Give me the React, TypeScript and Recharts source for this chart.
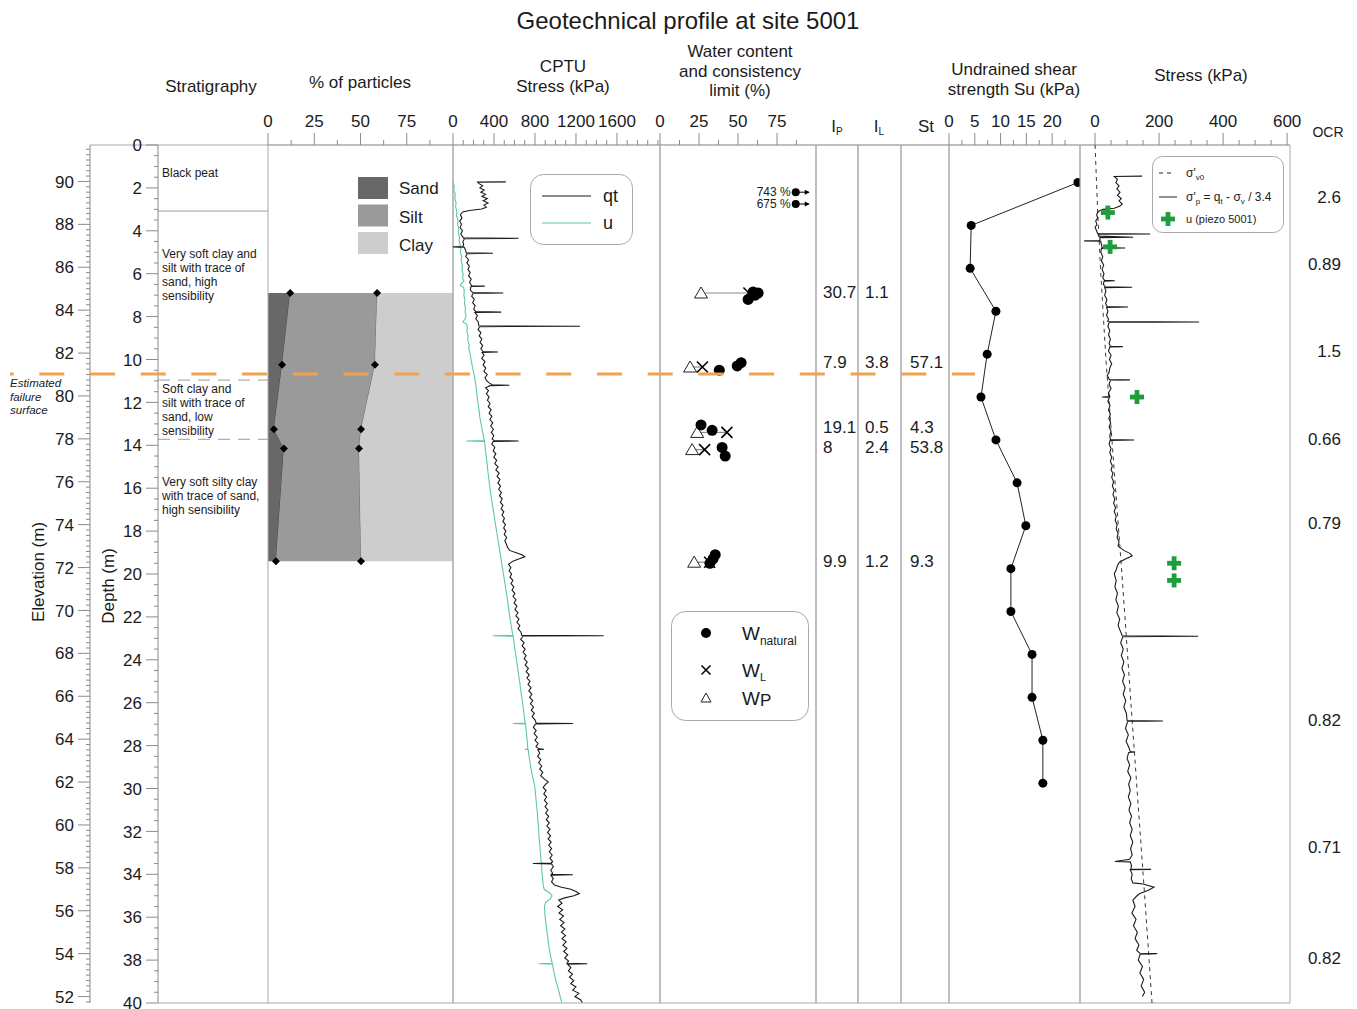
import React from "react";
import {
  ComposedChart,
  ScatterChart,
  Scatter,
  Area,
  XAxis,
  YAxis,
  ReferenceLine,
  ReferenceArea,
  Legend,
} from "recharts";

const W = 1357;
const H = 1009;
const TOP = 145;
const BOT = 1003;
const AXIS_H = 30;
const PAD = 20;
const FONT = "'Liberation Sans', Arial, Helvetica, sans-serif";
const BORDER = "#a9a9a9";
const TICK = "#8a8a8a";
const INK = "#1b1b1b";
const TEAL = "#5fc6b2";
const ORANGE = "#f0a24e";
const GREEN = "#1f9d3e";
const SAND = "#686868";
const SILT = "#9a9a9a";
const CLAY = "#cdcdcd";

const range = (a: number, b: number, s: number) => {
  const out: number[] = [];
  for (let i = 0; a + i * s <= b + 1e-9; i++) out.push(Math.round((a + i * s) * 1000) / 1000);
  return out;
};

// ---- axes ----
const ELEV_TOP = 91.7; // elevation at depth 0
const elevMajor = [52, 54, 56, 58, 60, 62, 64, 66, 68, 70, 72, 74, 76, 78, 80, 82, 84, 86, 88, 90];
const depthMajor = [0, 2, 4, 6, 8, 10, 12, 14, 16, 18, 20, 22, 24, 26, 28, 30, 32, 34, 36, 38, 40];
const particleMajor = [0, 25, 50, 75];
const cptuMajor = [0, 400, 800, 1200, 1600];
const waterMajor = [0, 25, 50, 75];
const suMajor = [0, 5, 10, 15, 20];
const stressMajor = [0, 200, 400, 600];

// ---- stratigraphy ----
const strataBounds = [
  { d: 3.08, dashed: false },
  { d: 10.96, dashed: true },
  { d: 13.72, dashed: true },
];
const strataLabels = [
  { x: 0, d: 1.3, lines: ["Black peat"] },
  { x: 0, d: 5.08, lines: ["Very soft clay and", "silt with trace of", "sand, high", "sensibility"] },
  { x: 0, d: 11.38, lines: ["Soft clay and", "silt with trace of", "sand, low", "sensibility"] },
  { x: 0, d: 15.72, lines: ["Very soft silty clay", "with trace of sand,", "high sensibility"] },
];
const failureDepth = 10.68;
const failureLabel = ["Estimated", "failure", "surface"];

// ---- grain size (%) ----
const particleDepth = [6.9, 10.25, 13.25, 14.15, 19.4];
const sandPct = [12, 7.6, 3.2, 8.6, 4.3];
const siltPct = [47, 50.2, 47.1, 40.6, 46];
const particleLegend = [
  { label: "Sand", color: SAND },
  { label: "Silt", color: SILT },
  { label: "Clay", color: CLAY },
];

// ---- CPTU (depth m, kPa) ----
const qtPairs: [number, number][] = [
  [1.72, 515], [1.73, 240], [1.8, 255], [1.9, 290], [2.0, 262], [2.1, 305], [2.2, 272], [2.3, 318], [2.4, 283],
  [2.5, 335], [2.6, 295], [2.7, 342], [2.8, 302], [2.9, 325], [2.98, 280], [3.05, 160], [3.12, 95], [3.25, 72],
  [3.4, 88], [3.55, 66], [3.7, 82], [3.85, 70], [4.0, 92], [4.15, 76], [4.33, 102], [4.35, 640], [4.37, 112],
  [4.5, 96], [4.65, 104], [4.73, 98], [4.75, 0], [4.77, 110], [4.9, 122], [5.03, 130], [5.05, 390], [5.07, 138],
  [5.2, 124], [5.35, 152], [5.5, 136], [5.65, 160], [5.8, 146], [5.95, 168], [6.1, 152], [6.25, 178], [6.4, 162],
  [6.56, 182], [6.58, 310], [6.6, 176], [6.75, 168], [6.88, 192], [6.9, 490], [6.92, 196], [7.05, 182], [7.2, 208],
  [7.35, 192], [7.5, 216], [7.65, 202], [7.77, 222], [7.79, 470], [7.81, 214], [7.95, 238], [8.1, 222], [8.25, 246],
  [8.43, 252], [8.45, 1240], [8.47, 262], [8.6, 244], [8.75, 272], [8.9, 256], [9.05, 282], [9.2, 264], [9.35, 290],
  [9.5, 272], [9.63, 292], [9.65, 440], [9.67, 284], [9.8, 302], [9.95, 280], [10.1, 312], [10.25, 294], [10.4, 320],
  [10.55, 302], [10.7, 334], [10.85, 312], [11.0, 330], [11.1, 356], [11.18, 382], [11.2, 550], [11.22, 362],
  [11.32, 318], [11.45, 346], [11.6, 326], [11.75, 352], [11.9, 336], [12.05, 362], [12.2, 344], [12.35, 372],
  [12.5, 352], [12.65, 380], [12.8, 360], [12.95, 388], [13.1, 368], [13.25, 394], [13.4, 374], [13.55, 398],
  [13.7, 382], [13.78, 402], [13.8, 640], [13.82, 392], [13.95, 378], [14.1, 408], [14.25, 392], [14.4, 418],
  [14.55, 398], [14.7, 426], [14.85, 408], [15.0, 440], [15.15, 418], [15.3, 450], [15.45, 430], [15.6, 458],
  [15.75, 438], [15.9, 464], [16.05, 446], [16.2, 472], [16.35, 454], [16.5, 480], [16.65, 462], [16.8, 488],
  [16.95, 470], [17.1, 496], [17.25, 478], [17.4, 502], [17.55, 486], [17.7, 512], [17.85, 494], [18.0, 516],
  [18.15, 500], [18.3, 524], [18.45, 506], [18.6, 520], [18.75, 532], [18.9, 552], [19.0, 610], [19.1, 672],
  [19.2, 700], [19.3, 640], [19.4, 585], [19.55, 542], [19.7, 565], [19.85, 548], [20.0, 572], [20.15, 556],
  [20.3, 584], [20.45, 566], [20.6, 594], [20.75, 576], [20.9, 604], [21.05, 586], [21.2, 614], [21.35, 596],
  [21.5, 624], [21.65, 604], [21.8, 634], [21.95, 614], [22.1, 644], [22.25, 624], [22.4, 652], [22.55, 634],
  [22.7, 662], [22.86, 672], [22.88, 1470], [22.9, 684], [23.05, 660], [23.2, 694], [23.35, 674], [23.5, 704],
  [23.65, 684], [23.8, 714], [23.95, 694], [24.1, 724], [24.25, 704], [24.4, 736], [24.55, 714], [24.7, 744],
  [24.85, 722], [25.0, 752], [25.15, 732], [25.3, 762], [25.45, 740], [25.6, 770], [25.75, 748], [25.9, 778],
  [26.05, 756], [26.2, 786], [26.35, 764], [26.5, 794], [26.65, 772], [26.8, 800], [26.95, 812], [26.97, 1170],
  [26.99, 804], [27.15, 784], [27.3, 812], [27.45, 792], [27.6, 822], [27.75, 800], [27.9, 830], [28.05, 810],
  [28.15, 838], [28.17, 888], [28.19, 828], [28.35, 846], [28.5, 826], [28.65, 856], [28.8, 836], [28.95, 866],
  [29.1, 846], [29.25, 876], [29.4, 856], [29.55, 890], [29.7, 930], [29.8, 905], [29.95, 880], [30.1, 908],
  [30.25, 886], [30.4, 914], [30.55, 892], [30.7, 920], [30.85, 898], [31.0, 926], [31.15, 904], [31.3, 934],
  [31.45, 910], [31.6, 940], [31.75, 916], [31.9, 946], [32.05, 922], [32.2, 952], [32.35, 928], [32.5, 958],
  [32.65, 934], [32.8, 962], [32.95, 940], [33.1, 968], [33.25, 946], [33.4, 972], [33.48, 958], [33.5, 780],
  [33.52, 962], [33.65, 980], [33.8, 954], [33.95, 972], [34.0, 962], [34.02, 1170], [34.04, 956], [34.2, 978],
  [34.35, 962], [34.5, 990], [34.6, 1060], [34.7, 1150], [34.8, 1200], [34.9, 1232], [35.0, 1180], [35.1, 1090],
  [35.2, 1032], [35.35, 1064], [35.5, 1022], [35.65, 1070], [35.8, 1034], [35.95, 1078], [36.1, 1042],
  [36.25, 1084], [36.4, 1050], [36.55, 1092], [36.7, 1058], [36.85, 1098], [37.0, 1064], [37.15, 1104],
  [37.3, 1072], [37.45, 1112], [37.6, 1080], [37.75, 1120], [37.9, 1090], [38.05, 1128], [38.15, 1112],
  [38.17, 1310], [38.19, 1118], [38.35, 1150], [38.5, 1126], [38.65, 1166], [38.8, 1136], [38.95, 1178],
  [39.1, 1150], [39.25, 1200], [39.4, 1168], [39.55, 1228], [39.7, 1190], [39.85, 1244], [39.97, 1262],
];
const uPairs: [number, number][] = [
  [1.72, 0], [1.9, 12], [2.1, 8], [2.3, 22], [2.5, 18], [2.7, 30], [2.9, 26], [3.1, 38], [3.3, 34], [3.5, 48],
  [3.7, 44], [3.9, 56], [4.1, 52], [4.3, 64], [4.5, 60], [4.7, 74], [4.75, 40], [4.8, 78], [5.0, 72], [5.2, 84],
  [5.4, 80], [5.6, 92], [5.8, 88], [6.0, 98], [6.2, 94], [6.35, 106], [6.45, 82], [6.55, 72], [6.65, 104],
  [6.8, 110], [7.0, 106], [7.2, 116], [7.4, 112], [7.6, 122], [7.8, 118], [8.0, 128], [8.15, 112], [8.25, 96],
  [8.35, 132], [8.5, 140], [8.7, 136], [8.9, 148], [9.1, 144], [9.3, 158], [9.5, 154], [9.7, 166], [9.9, 172],
  [10.1, 180], [10.3, 188], [10.5, 196], [10.7, 206], [10.9, 214], [11.1, 220], [11.3, 226], [11.5, 230],
  [11.7, 236], [11.9, 240], [12.1, 246], [12.3, 252], [12.5, 258], [12.7, 262], [12.9, 270], [13.1, 278],
  [13.3, 286], [13.5, 294], [13.7, 302], [13.78, 306], [13.8, 130], [13.82, 308], [14.0, 312], [14.3, 318],
  [14.6, 326], [14.9, 334], [15.2, 340], [15.5, 348], [15.8, 356], [16.1, 364], [16.4, 372], [16.7, 382],
  [17.0, 392], [17.3, 402], [17.6, 412], [17.9, 422], [18.2, 432], [18.5, 442], [18.8, 452], [19.1, 462],
  [19.4, 472], [19.7, 482], [20.0, 492], [20.3, 502], [20.6, 512], [20.9, 522], [21.2, 532], [21.5, 540],
  [21.8, 548], [22.1, 558], [22.4, 568], [22.7, 578], [22.86, 584], [22.88, 390], [22.9, 588], [23.2, 596],
  [23.5, 604], [23.8, 614], [24.1, 622], [24.4, 632], [24.7, 640], [25.0, 650], [25.3, 658], [25.6, 666],
  [25.9, 676], [26.2, 684], [26.5, 692], [26.8, 700], [26.95, 704], [26.97, 585], [26.99, 708], [27.3, 714],
  [27.6, 720], [27.9, 726], [28.15, 730], [28.17, 700], [28.19, 734], [28.5, 742], [28.8, 752], [29.1, 762],
  [29.4, 774], [29.7, 790], [30.0, 800], [30.3, 806], [30.6, 812], [30.9, 818], [31.2, 824], [31.5, 828],
  [31.8, 834], [32.1, 838], [32.4, 842], [32.7, 848], [33.0, 852], [33.3, 858], [33.6, 864], [33.9, 868],
  [34.2, 874], [34.5, 880], [34.7, 890], [34.85, 940], [35.0, 966], [35.15, 950], [35.3, 905], [35.5, 892],
  [35.8, 896], [36.1, 902], [36.4, 910], [36.7, 918], [37.0, 926], [37.3, 934], [37.6, 944], [37.9, 956],
  [38.1, 966], [38.15, 970], [38.17, 840], [38.19, 972], [38.5, 982], [38.8, 996], [39.1, 1012], [39.4, 1030],
  [39.7, 1046], [39.97, 1062],
];
const cptuLegend = [
  { label: "qt", color: INK },
  { label: "u", color: TEAL },
];

// ---- water content (%) ----
const wNatural: [number, number][] = [
  [6.85, 59.7], [6.9, 62.9], [7.2, 56.5], [7.0, 61], [10.15, 52], [10.3, 49.5], [10.5, 38], [13.05, 26.3],
  [13.3, 33.4], [14.1, 39.8], [14.5, 41.8], [19.1, 35.4], [19.3, 34], [19.5, 32],
];
const limitDepth = [6.9, 10.35, 13.4, 14.2, 19.45];
const wPlastic = [26.3, 19.3, 23.8, 20.6, 21.9];
const wLiquid = [57, 27.2, 42.9, 28.6, 31.8];
const offScaleDepth = [2.2, 2.75];
const offScaleW = [743, 675];
const W_CAP = 87; // where off-scale values are drawn

// ---- indices ----
const indexDepth = [6.85, 10.1, 13.15, 14.08, 19.4];
const ipText = ["30.7", "7.9", "19.1", "8", "9.9"];
const ilText = ["1.1", "3.8", "0.5", "2.4", "1.2"];
const stText = ["", "57.1", "4.3", "53.8", "9.3"];

// ---- undrained shear strength ----
const suDepth = [1.75, 3.75, 5.75, 7.75, 9.75, 11.75, 13.75, 15.75, 17.75, 19.75, 21.75, 23.75, 25.75, 27.75, 29.75];
const suValue = [25, 4.3, 4.1, 9.1, 7.4, 6.2, 9.1, 13.2, 14.9, 12.0, 12.0, 16.1, 16.1, 18.2, 18.2];

// ---- stresses (kPa) ----
const sigmaP: [number, number][] = [
  [1.45, 147], [1.47, 60], [1.6, 70], [1.75, 65], [1.9, 75], [2.05, 68], [2.2, 78], [2.35, 70], [2.5, 82],
  [2.6, 75], [2.75, 85], [2.85, 78], [2.95, 60], [3.0, 25], [3.1, 10], [3.25, 5], [3.4, 8], [3.55, 2], [3.7, 6],
  [3.85, 0], [4.0, 5], [4.13, 8], [4.15, 172], [4.17, 10], [4.25, 12], [4.3, 119], [4.32, 15], [4.45, 15],
  [4.47, -34], [4.49, 18], [4.65, 20], [4.78, 22], [4.8, 94], [4.82, 20], [5.0, 18], [5.2, 24], [5.4, 20],
  [5.6, 27], [5.8, 22], [6.0, 28], [6.2, 24], [6.31, 30], [6.33, 62], [6.35, 28], [6.5, 26], [6.61, 32],
  [6.63, 116], [6.65, 30], [6.8, 34], [7.0, 30], [7.2, 37], [7.4, 33], [7.53, 38], [7.55, 103], [7.57, 36],
  [7.75, 40], [7.95, 36], [8.1, 42], [8.23, 40], [8.25, 325], [8.27, 44], [8.45, 40], [8.65, 46], [8.85, 42],
  [9.05, 48], [9.25, 44], [9.38, 48], [9.4, 87], [9.42, 46], [9.6, 42], [9.8, 50], [10.0, 45], [10.2, 52],
  [10.4, 46], [10.6, 44], [10.75, 38], [10.93, 45], [10.95, 109], [10.97, 48], [11.15, 44], [11.35, 50],
  [11.55, 42], [11.73, 46], [11.75, 22], [11.77, 45], [11.95, 40], [12.15, 47], [12.35, 42], [12.55, 48],
  [12.75, 43], [12.95, 49], [13.15, 44], [13.35, 50], [13.55, 46], [13.73, 48], [13.75, 122], [13.77, 47],
  [13.95, 44], [14.15, 50], [14.35, 46], [14.55, 52], [14.75, 48], [14.95, 54], [15.15, 50], [15.3, 56],
  [15.5, 52], [15.7, 58], [15.9, 54], [16.1, 60], [16.3, 56], [16.5, 62], [16.7, 58], [16.9, 64], [17.1, 60],
  [17.3, 66], [17.5, 63], [17.7, 69], [17.9, 66], [18.1, 72], [18.3, 69], [18.5, 75], [18.7, 72], [18.9, 90],
  [19.05, 110], [19.15, 116], [19.3, 95], [19.45, 76], [19.6, 70], [19.8, 66], [20.0, 60], [20.3, 66],
  [20.6, 62], [20.9, 70], [21.2, 65], [21.5, 73], [21.8, 68], [22.1, 77], [22.4, 72], [22.7, 80], [22.88, 85],
  [22.9, 322], [22.92, 87], [23.2, 80], [23.5, 88], [23.8, 82], [24.1, 90], [24.4, 84], [24.7, 92], [25.0, 86],
  [25.3, 94], [25.6, 88], [25.9, 96], [26.2, 90], [26.5, 98], [26.83, 100], [26.85, 212], [26.87, 102],
  [27.2, 95], [27.5, 104], [27.8, 97], [28.1, 106], [28.28, 110], [28.3, 125], [28.32, 105], [28.6, 100],
  [28.9, 108], [29.2, 102], [29.5, 112], [29.8, 105], [30.1, 110], [30.4, 104], [30.7, 112], [31.0, 106],
  [31.3, 114], [31.6, 108], [31.9, 116], [32.2, 110], [32.5, 118], [32.8, 111], [33.1, 116], [33.3, 108],
  [33.4, 62], [33.42, 110], [33.6, 114], [33.75, 112], [33.77, 175], [33.79, 110], [34.0, 116], [34.2, 113],
  [34.4, 118], [34.45, 150], [34.6, 184], [34.75, 165], [34.9, 140], [35.0, 131], [35.2, 118], [35.5, 125],
  [35.8, 115], [36.1, 128], [36.4, 120], [36.7, 132], [37.0, 125], [37.3, 137], [37.55, 130], [37.68, 140],
  [37.7, 194], [37.72, 141], [38.0, 135], [38.3, 148], [38.6, 140], [38.9, 152], [39.2, 144], [39.5, 155],
  [39.7, 148],
];
const sigmaV0: [number, number][] = [
  [0, 0], [3, 8], [6, 18], [10, 34], [14, 54], [20, 84], [26, 112], [30, 131], [35, 155], [40, 178],
];
const piezo: [number, number][] = [
  [3.15, 40], [4.75, 47], [11.75, 131], [19.5, 247], [20.3, 247],
];

// ---- OCR ----
const ocrDepth = [2.42, 5.55, 9.6, 13.7, 17.6, 26.8, 32.7, 37.9];
const ocrText = ["2.6", "0.89", "1.5", "0.66", "0.79", "0.82", "0.71", "0.82"];

const pts = (a: [number, number][]) => a.map(([d, x]) => ({ d, x }));

// ---------- tick renderers ----------
function TopTick(props: any) {
  const { x, payload, majors } = props;
  const v = payload?.value;
  const major = majors.some((m: number) => Math.abs(m - v) < 1e-6);
  return (
    <g>
      <line x1={x} x2={x} y1={TOP} y2={TOP - (major ? 12 : 5)} stroke={TICK} />
      {major && (
        <text x={x} y={TOP - 18} textAnchor="middle" fontSize={17} fill={INK}>
          {v}
        </text>
      )}
    </g>
  );
}

function LeftTick(props: any) {
  const { y, payload, majors, axisX } = props;
  const v = payload?.value;
  const major = majors.some((m: number) => Math.abs(m - v) < 1e-6);
  return (
    <g>
      <line x1={axisX} x2={axisX - (major ? 12 : 4)} y1={y} y2={y} stroke={TICK} />
      {major && (
        <text x={axisX - 16} y={y} dy="0.36em" textAnchor="end" fontSize={17} fill={INK}>
          {v}
        </text>
      )}
    </g>
  );
}

// ---------- shapes ----------
const Nothing = () => null;
const Diamond = (p: any) => {
  if (p.cx == null || p.cy == null) return null;
  const r = 4;
  const { cx, cy } = p;
  return <path key={p.index} d={`M${cx},${cy - r}L${cx + r},${cy}L${cx},${cy + r}L${cx - r},${cy}Z`} fill="#000" />;
};
const BigDot = (p: any) => <circle cx={p.cx} cy={p.cy} r={5.5} fill="#000" />;
const SuDot = (p: any) => <circle cx={p.cx} cy={p.cy} r={4.5} fill="#000" />;
const XMark = (p: any) => {
  const r = 5.5;
  const { cx, cy } = p;
  return <path d={`M${cx - r},${cy - r}L${cx + r},${cy + r}M${cx - r},${cy + r}L${cx + r},${cy - r}`} stroke="#000" strokeWidth={1.6} />;
};
const TriMark = (p: any) => {
  const { cx, cy } = p;
  return <path d={`M${cx},${cy - 6}L${cx + 6.5},${cy + 5}L${cx - 6.5},${cy + 5}Z`} fill="#fff" stroke="#222" strokeWidth={1} />;
};
const PlusMark = (p: any) => {
  const { cx, cy } = p;
  return (
    <g fill={GREEN}>
      <rect x={cx - 7} y={cy - 2.4} width={14} height={4.8} />
      <rect x={cx - 2.4} y={cy - 7} width={4.8} height={14} />
    </g>
  );
};
const OffScale = (p: any) => {
  const { cx, cy } = p;
  const label = p.payload?.label ?? p.label;
  return (
    <g>
      <circle cx={cx} cy={cy} r={4} fill="#000" />
      <line x1={cx} x2={cx + 13} y1={cy} y2={cy} stroke="#000" strokeWidth={1} />
      <path d={`M${cx + 14},${cy}L${cx + 9},${cy - 2.5}L${cx + 9},${cy + 2.5}Z`} fill="#000" />
      <text x={cx - 5} y={cy} dy="0.35em" textAnchor="end" fontSize={12} fill={INK}>
        {label}
      </text>
    </g>
  );
};
const textMark = (dx: number, anchor: "start" | "middle" | "end", size = 17) => (p: any) => (
  <text x={p.cx + dx} y={p.cy} dy="0.36em" textAnchor={anchor} fontSize={size} fill={INK}>
    {p.payload?.label ?? p.label}
  </text>
);
const StrataText = (p: any) => {
  const lines: string[] = p.payload?.lines ?? p.lines ?? [];
  return (
    <text x={p.cx + 4} y={p.cy} fontSize={12} fill={INK}>
      {lines.map((l, i) => (
        <tspan key={i} x={p.cx + 4} dy={i === 0 ? "0.35em" : 14}>
          {l}
        </tspan>
      ))}
    </text>
  );
};
const FailureText = (p: any) => {
  const idx = p.payload?.idx ?? p.idx;
  if (idx !== 0) return null;
  return (
    <text x={p.cx} y={p.cy} fontSize={11.5} fontStyle="italic" fill={INK}>
      {failureLabel.map((l, i) => (
        <tspan key={i} x={p.cx} dy={i === 0 ? 13 : 13.5}>
          {l}
        </tspan>
      ))}
    </text>
  );
};

// ---------- generic panel ----------
function Panel(props: any) {
  const { left, right, domain, majors = [], ticks, children, border = true, axis = true } = props;
  return (
    <div style={{ position: "absolute", left: left - PAD, top: 0 }}>
      <ScatterChart
        width={right - left + 2 * PAD}
        height={H}
        margin={{ top: TOP - AXIS_H, bottom: H - BOT, left: PAD, right: PAD }}
      >
        <XAxis
          type="number"
          dataKey="x"
          orientation="top"
          domain={domain}
          allowDataOverflow
          ticks={ticks}
          interval={0}
          height={AXIS_H}
          tickLine={false}
          axisLine={axis ? { stroke: BORDER } : false}
          tick={ticks ? <TopTick majors={majors} /> : false}
        />
        <YAxis type="number" dataKey="d" domain={[0, 40]} reversed hide allowDataOverflow />
        {border && (
          <ReferenceArea x1={domain[0]} x2={domain[1]} y1={0} y2={40} fill="none" stroke={BORDER} ifOverflow="visible" />
        )}
        {children}
      </ScatterChart>
    </div>
  );
}

const lg = (pageX: number, pageY: number, panelLeft: number, w: number, h: number) => ({
  left: pageX - (panelLeft - PAD),
  top: pageY,
  width: w,
  height: h,
});

// ---------- pieces ----------
function ElevationAxis() {
  return (
    <div style={{ position: "absolute", left: 0, top: 0 }}>
      <ComposedChart width={158} height={H} margin={{ top: TOP - AXIS_H, bottom: H - BOT, left: 0, right: 0 }}>
        <XAxis type="number" orientation="top" domain={[0, 1]} height={AXIS_H} tick={false} tickLine={false} axisLine={{ stroke: BORDER }} />
        <YAxis
          type="number"
          domain={[ELEV_TOP - 40, ELEV_TOP]}
          allowDataOverflow
          width={90}
          ticks={range(51.75, 91.5, 0.25)}
          interval={0}
          tickLine={false}
          tickSize={12}
          tickMargin={4}
          tick={<LeftTick majors={elevMajor} axisX={90} />}
          axisLine={{ stroke: TICK }}
          label={{
            content: (p: any) => {
              const vb = p.viewBox || { x: 0, y: TOP, width: 90, height: BOT - TOP };
              const cx = vb.x + 38;
              const cy = vb.y + vb.height / 2 - 2;
              return (
                <text x={cx} y={cy} transform={`rotate(-90 ${cx} ${cy})`} textAnchor="middle" dy="0.35em" fontSize={17} fill={INK}>
                  Elevation (m)
                </text>
              );
            },
          }}
        />
        <ReferenceLine y={ELEV_TOP - 40} stroke={BORDER} ifOverflow="visible" />
      </ComposedChart>
    </div>
  );
}

function DepthStrata() {
  return (
    <div style={{ position: "absolute", left: 90, top: 0 }}>
      <ScatterChart width={178} height={H} margin={{ top: TOP - AXIS_H, bottom: H - BOT, left: 0, right: 0 }}>
        <XAxis type="number" dataKey="x" orientation="top" domain={[0, 1]} height={AXIS_H} tick={false} tickLine={false} axisLine={{ stroke: BORDER }} />
        <YAxis
          type="number"
          dataKey="d"
          domain={[0, 40]}
          reversed
          allowDataOverflow
          width={68}
          ticks={range(0, 40, 0.5)}
          interval={0}
          tickLine={false}
          tickSize={12}
          tickMargin={4}
          tick={<LeftTick majors={depthMajor} axisX={68} />}
          axisLine={{ stroke: TICK }}
          label={{
            content: (p: any) => {
              const vb = p.viewBox || { x: 0, y: TOP, width: 68, height: BOT - TOP };
              const cx = vb.x + 18;
              const cy = vb.y + vb.height / 2 + 12;
              return (
                <text x={cx} y={cy} transform={`rotate(-90 ${cx} ${cy})`} textAnchor="middle" dy="0.35em" fontSize={17} fill={INK}>
                  Depth (m)
                </text>
              );
            },
          }}
        />
        <ReferenceLine y={40} stroke={BORDER} ifOverflow="visible" />
        {strataBounds.map((b, i) => (
          <ReferenceLine key={i} y={b.d} stroke="#9c9c9c" strokeDasharray={b.dashed ? "12 8" : undefined} />
        ))}
        <Scatter data={strataLabels} shape={StrataText} isAnimationActive={false} />
      </ScatterChart>
    </div>
  );
}

function ParticlesPanel() {
  const left = 268;
  const right = 453;
  const rows = particleDepth.map((d, i) => ({
    d,
    sand: sandPct[i],
    silt: siltPct[i],
    clay: 100 - sandPct[i] - siltPct[i],
  }));
  return (
    <div style={{ position: "absolute", left: left - PAD, top: 0 }}>
      <ComposedChart
        layout="vertical"
        data={rows}
        width={right - left + 2 * PAD}
        height={H}
        margin={{ top: TOP - AXIS_H, bottom: H - BOT, left: PAD, right: PAD }}
      >
        <XAxis
          type="number"
          orientation="top"
          domain={[0, 100]}
          allowDataOverflow
          ticks={range(0, 87.5, 12.5)}
          interval={0}
          height={AXIS_H}
          tickLine={false}
          axisLine={{ stroke: BORDER }}
          tick={<TopTick majors={particleMajor} />}
        />
        {/* in vertical layout Recharts already runs the category axis top-down */}
        <YAxis type="number" dataKey="d" domain={[0, 40]} hide allowDataOverflow />
        <Area dataKey="sand" stackId="p" type="linear" fill={SAND} fillOpacity={1} stroke="#3a3a3a" strokeWidth={0.8} dot={Diamond} activeDot={false} isAnimationActive={false} />
        <Area dataKey="silt" stackId="p" type="linear" fill={SILT} fillOpacity={1} stroke="#555" strokeWidth={0.8} dot={Diamond} activeDot={false} isAnimationActive={false} />
        <Area dataKey="clay" stackId="p" type="linear" fill={CLAY} fillOpacity={1} stroke="none" activeDot={false} isAnimationActive={false} />
        <ReferenceArea x1={0} x2={100} y1={0} y2={40} fill="none" stroke={BORDER} ifOverflow="visible" />
        <Legend
          layout="vertical"
          align="center"
          verticalAlign="middle"
          wrapperStyle={lg(358, 177, left, 95, 80)}
          content={() => (
            <svg width={95} height={80}>
              {particleLegend.map((e, i) => (
                <g key={e.label}>
                  <rect x={0} y={i * 27.5} width={30} height={22} fill={e.color} />
                  <text x={41} y={i * 28.5 + 17} fontSize={17} fill={INK}>
                    {e.label}
                  </text>
                </g>
              ))}
            </svg>
          )}
        />
      </ComposedChart>
    </div>
  );
}

function Txt({ x, y, size = 17, children, style }: any) {
  return (
    <div
      style={{
        position: "absolute",
        left: x,
        top: y,
        transform: "translate(-50%, -50%)",
        fontSize: size,
        whiteSpace: "nowrap",
        lineHeight: 1,
        ...style,
      }}
    >
      {children}
    </div>
  );
}

export default function App() {
  const idxCols = [
    { left: 816, right: 858, texts: ipText, dx: 7 },
    { left: 858, right: 901, texts: ilText, dx: 7 },
    { left: 901, right: 949, texts: stText, dx: 9 },
  ];
  return (
    <div
      style={{
        position: "absolute",
        left: 0,
        top: 0,
        width: W,
        height: H,
        background: "#fff",
        fontFamily: FONT,
        color: INK,
        overflow: "hidden",
      }}
    >
      {/* titles */}
      <Txt x={688} y={21} size={24}>Geotechnical profile at site 5001</Txt>
      <Txt x={211} y={86}>Stratigraphy</Txt>
      <Txt x={360} y={82}>% of particles</Txt>
      <Txt x={563} y={66}>CPTU</Txt>
      <Txt x={563} y={86}>Stress (kPa)</Txt>
      <Txt x={740} y={51}>Water content</Txt>
      <Txt x={740} y={71}>and consistency</Txt>
      <Txt x={740} y={90}>limit (%)</Txt>
      <Txt x={1014} y={69}>Undrained shear</Txt>
      <Txt x={1014} y={89}>strength Su (kPa)</Txt>
      <Txt x={1201} y={75}>Stress (kPa)</Txt>
      <Txt x={1328} y={132} size={14}>OCR</Txt>
      <Txt x={837} y={127}>
        I<span style={{ fontSize: 10, verticalAlign: -3 }}>P</span>
      </Txt>
      <Txt x={879} y={127}>
        I<span style={{ fontSize: 10, verticalAlign: -3 }}>L</span>
      </Txt>
      <Txt x={926} y={126}>St</Txt>

      <ElevationAxis />
      <DepthStrata />
      <ParticlesPanel />

      {/* CPTU */}
      <Panel left={453} right={660} domain={[0, 2020]} ticks={range(0, 2000, 100)} majors={cptuMajor}>
        <Scatter data={pts(uPairs)} line={{ stroke: TEAL, strokeWidth: 1.1 }} shape={Nothing} isAnimationActive={false} />
        <Scatter data={pts(qtPairs)} line={{ stroke: INK, strokeWidth: 1.1 }} shape={Nothing} isAnimationActive={false} />
        <Legend
          layout="vertical"
          align="center"
          verticalAlign="middle"
          wrapperStyle={lg(530, 174, 453, 103, 71)}
          content={() => (
            <svg width={103} height={71}>
              <rect x={0.5} y={0.5} width={102} height={70} rx={13} fill="#fff" stroke={BORDER} />
              {cptuLegend.map((e, i) => (
                <g key={e.label}>
                  <line x1={12} x2={61} y1={22 + i * 27} y2={22 + i * 27} stroke={e.color} strokeWidth={1.2} />
                  <text x={73} y={28 + i * 27} fontSize={18} fill={INK}>
                    {e.label}
                  </text>
                </g>
              ))}
            </svg>
          )}
        />
      </Panel>

      {/* water content */}
      <Panel left={660} right={816} domain={[0, 100]} ticks={range(0, 87.5, 12.5)} majors={waterMajor}>
        {limitDepth.map((d, i) => (
          <Scatter
            key={"r" + i}
            data={[{ x: wPlastic[i], d }, { x: wLiquid[i], d }]}
            line={{ stroke: "#8a8a8a", strokeWidth: 1.2 }}
            shape={Nothing}
            isAnimationActive={false}
          />
        ))}
        <Scatter data={limitDepth.map((d, i) => ({ x: wPlastic[i], d }))} shape={TriMark} isAnimationActive={false} />
        <Scatter data={limitDepth.map((d, i) => ({ x: wLiquid[i], d }))} shape={XMark} isAnimationActive={false} />
        <Scatter data={pts(wNatural)} shape={BigDot} isAnimationActive={false} />
        <Scatter
          data={offScaleDepth.map((d, i) => ({ d, x: Math.min(offScaleW[i], W_CAP), label: `${offScaleW[i]} %` }))}
          shape={OffScale}
          isAnimationActive={false}
        />
        <Legend
          layout="vertical"
          align="center"
          verticalAlign="middle"
          wrapperStyle={lg(671, 611, 660, 139, 111)}
          content={() => (
            <svg width={139} height={111}>
              <rect x={0.5} y={0.5} width={137} height={109} rx={14} fill="#fff" stroke={BORDER} />
              <circle cx={35} cy={22} r={5} fill="#000" />
              <text x={71} y={29} fontSize={19} fill={INK}>
                W<tspan fontSize={12} dy={5}>natural</tspan>
              </text>
              <path d="M30.5,54.5L39.5,63.5M30.5,63.5L39.5,54.5" stroke="#000" strokeWidth={1.5} />
              <text x={71} y={66} fontSize={19} fill={INK}>
                W<tspan fontSize={11} dy={4}>L</tspan>
              </text>
              <path d="M35,82L40,91L30,91Z" fill="#fff" stroke="#222" />
              <text x={71} y={94} fontSize={19} fill={INK}>
                W<tspan fontSize={17} dy={1}>P</tspan>
              </text>
            </svg>
          )}
        />
      </Panel>

      {/* Ip, IL, St */}
      {idxCols.map((c, k) => (
        <Panel key={k} left={c.left} right={c.right} domain={[0, 1]}>
          <Scatter
            data={indexDepth.map((d, i) => ({ x: 0, d, label: c.texts[i] }))}
            shape={textMark(c.dx, "start")}
            isAnimationActive={false}
          />
        </Panel>
      ))}

      {/* Su */}
      <Panel left={949} right={1080} domain={[0, 25.4]} ticks={range(0, 22.5, 2.5)} majors={suMajor}>
        <Scatter
          data={suDepth.map((d, i) => ({ d, x: suValue[i] }))}
          line={{ stroke: "#222", strokeWidth: 1 }}
          shape={SuDot}
          isAnimationActive={false}
        />
      </Panel>

      {/* stresses */}
      <Panel left={1080} right={1290} domain={[-47, 609]} ticks={range(0, 600, 50)} majors={stressMajor}>
        <Scatter data={pts(sigmaV0)} line={{ stroke: "#222", strokeWidth: 0.9, strokeDasharray: "4 4" }} shape={Nothing} isAnimationActive={false} />
        <Scatter data={pts(sigmaP)} line={{ stroke: INK, strokeWidth: 1.1 }} shape={Nothing} isAnimationActive={false} />
        <Scatter data={pts(piezo)} shape={PlusMark} isAnimationActive={false} />
        <Legend
          layout="vertical"
          align="center"
          verticalAlign="middle"
          wrapperStyle={lg(1152, 156, 1080, 133, 78)}
          content={() => (
            <svg width={133} height={78}>
              <rect x={0.5} y={0.5} width={131} height={76} rx={10} fill="#fff" stroke={BORDER} />
              <line x1={7} x2={22} y1={17} y2={17} stroke="#222" strokeDasharray="4 4" />
              <text x={34} y={21} fontSize={12} fill={INK}>
                σ'<tspan fontSize={8} dy={3}>v0</tspan>
              </text>
              <line x1={7} x2={25} y1={41} y2={41} stroke="#222" />
              <text x={34} y={45} fontSize={12} fill={INK}>
                σ'<tspan fontSize={8} dy={3}>p</tspan>
                <tspan dy={-3}> = q</tspan>
                <tspan fontSize={8} dy={3}>t</tspan>
                <tspan dy={-3}> - σ</tspan>
                <tspan fontSize={8} dy={3}>v</tspan>
                <tspan dy={-3}> / 3.4</tspan>
              </text>
              <PlusMark cx={16} cy={63} />
              <text x={34} y={67} fontSize={11} fill={INK}>
                u (piezo 5001)
              </text>
            </svg>
          )}
        />
      </Panel>

      {/* OCR */}
      <Panel left={1290} right={1357} domain={[0, 1]} border={false} axis={false}>
        <Scatter
          data={ocrDepth.map((d, i) => ({ x: 0, d, label: ocrText[i] }))}
          shape={textMark(51, "end")}
          isAnimationActive={false}
        />
      </Panel>

      {/* estimated failure surface, drawn across all panels */}
      <div style={{ position: "absolute", left: 10, top: 0 }}>
        <ScatterChart width={965} height={H} margin={{ top: TOP, bottom: H - BOT, left: 0, right: 0 }}>
          <XAxis type="number" dataKey="x" domain={[0, 1]} hide allowDataOverflow />
          <YAxis type="number" dataKey="d" domain={[0, 40]} reversed hide allowDataOverflow />
          <Scatter
            data={[
              { x: 0, d: failureDepth, idx: 0 },
              { x: 1, d: failureDepth, idx: 1 },
            ]}
            line={{ stroke: ORANGE, strokeWidth: 3, strokeDasharray: "25 25.7", strokeDashoffset: 21.4 }}
            shape={FailureText}
            isAnimationActive={false}
          />
        </ScatterChart>
      </div>
    </div>
  );
}
